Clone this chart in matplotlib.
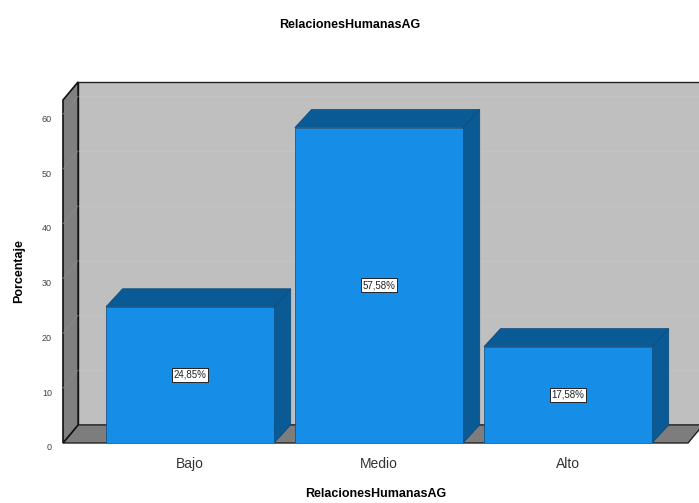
import matplotlib
matplotlib.use("Agg")
import matplotlib.pyplot as plt
import matplotlib.transforms as mtransforms
from matplotlib.patches import Polygon

plt.rcParams['font.family'] = ['Liberation Sans', 'DejaVu Sans']

# data
categorias = ["Bajo", "Medio", "Alto"]
porcentajes = [24.85, 57.58, 17.58]
etiquetas = ["24,85%", "57,58%", "17,58%"]
yticks = [0, 10, 20, 30, 40, 50, 60]
titulo = "RelacionesHumanasAG"

fig = plt.figure(figsize=(6.99, 5.03), dpi=100)
# front plane of the 3d box, in pixels: x 63..688, y 100..443
ax = fig.add_axes([63/699, 60/503, 625/699, 343/503])
ax.set_xlim(-0.672, 2.635)
ax.set_ylim(0, 62.6)

dx, dy = 0.08, 3.3        # depth offset of walls (data units)
x0, x1 = ax.get_xlim()
ytop = ax.get_ylim()[1]

# walls
back = Polygon([(x0+dx, dy), (x1+dx+0.2, dy), (x1+dx+0.2, ytop+dy), (x0+dx, ytop+dy)],
               closed=True, fc="#bfbfbf", ec="#222222", lw=1.0, clip_on=False, zorder=1)
ax.add_patch(back)
floor = Polygon([(x0, 0), (x1, 0), (x1+dx, dy), (x0+dx, dy)],
                closed=True, fc="#7d7d7d", ec="#222222", lw=1.0, clip_on=False, zorder=2)
ax.add_patch(floor)
left = Polygon([(x0, 0), (x0+dx, dy), (x0+dx, ytop+dy), (x0, ytop)],
               closed=True, fc="#808080", ec="#111111", lw=1.2, clip_on=False, zorder=2)
ax.add_patch(left)

# faint gridlines on the back wall and left wall
for t in yticks[1:]:
    ax.plot([x0+dx, x1+dx+0.2], [t+dy, t+dy], color="#c6c6c6", lw=0.5, clip_on=False, zorder=1.5)
    ax.plot([x0, x0+dx], [t, t+dy], color="#8c8c8c", lw=0.5, clip_on=False, zorder=2.5)

# bars
w = 0.89
bdx, bdy = 0.088, 3.3
front_c = "#168de6"
dark_c = "#0a5a96"
bars = ax.bar(range(len(categorias)), porcentajes, width=w, color=front_c,
              edgecolor="#0a4a7a", linewidth=0.5, zorder=5)
for i, (b, v) in enumerate(zip(bars, porcentajes)):
    xl = b.get_x()
    xr = xl + w
    side = Polygon([(xr, 0), (xr+bdx, bdy), (xr+bdx, v+bdy), (xr, v)],
                   closed=True, fc=dark_c, ec="#0a4a7a", lw=0.5, zorder=4)
    top = Polygon([(xl, v), (xl+bdx, v+bdy), (xr+bdx, v+bdy), (xr, v)],
                  closed=True, fc=dark_c, ec="#0a4a7a", lw=0.5, zorder=4)
    ax.add_patch(side)
    ax.add_patch(top)
    ax.text(i, v/2, etiquetas[i], ha="center", va="center", fontsize=7, color="#222222",
            zorder=6, bbox=dict(boxstyle="square,pad=0.2", fc="white", ec="#222222", lw=0.7))

for s in ax.spines.values():
    s.set_visible(False)
ax.set_yticks(yticks)
ax.set_yticklabels([str(t) for t in yticks], fontsize=6.5, color="#444444")
ax.tick_params(axis="y", length=0, pad=8)
shift = mtransforms.ScaledTranslation(0, -4/100, fig.dpi_scale_trans)
for lab in ax.get_yticklabels():
    lab.set_transform(lab.get_transform() + shift)
ax.set_xticks(range(len(categorias)))
ax.set_xticklabels(categorias, fontsize=10, color="#333333")
ax.tick_params(axis="x", length=0, pad=10)
ax.patch.set_visible(False)

ax.set_ylabel("Porcentaje", fontsize=9, fontweight="bold", labelpad=12)
ax.set_xlabel(titulo, fontsize=9, fontweight="bold", labelpad=12)
fig.text(0.5, 1 - 25/503, titulo, ha="center", va="center", fontsize=9, fontweight="bold")

fig.savefig("out.png", dpi=100)
